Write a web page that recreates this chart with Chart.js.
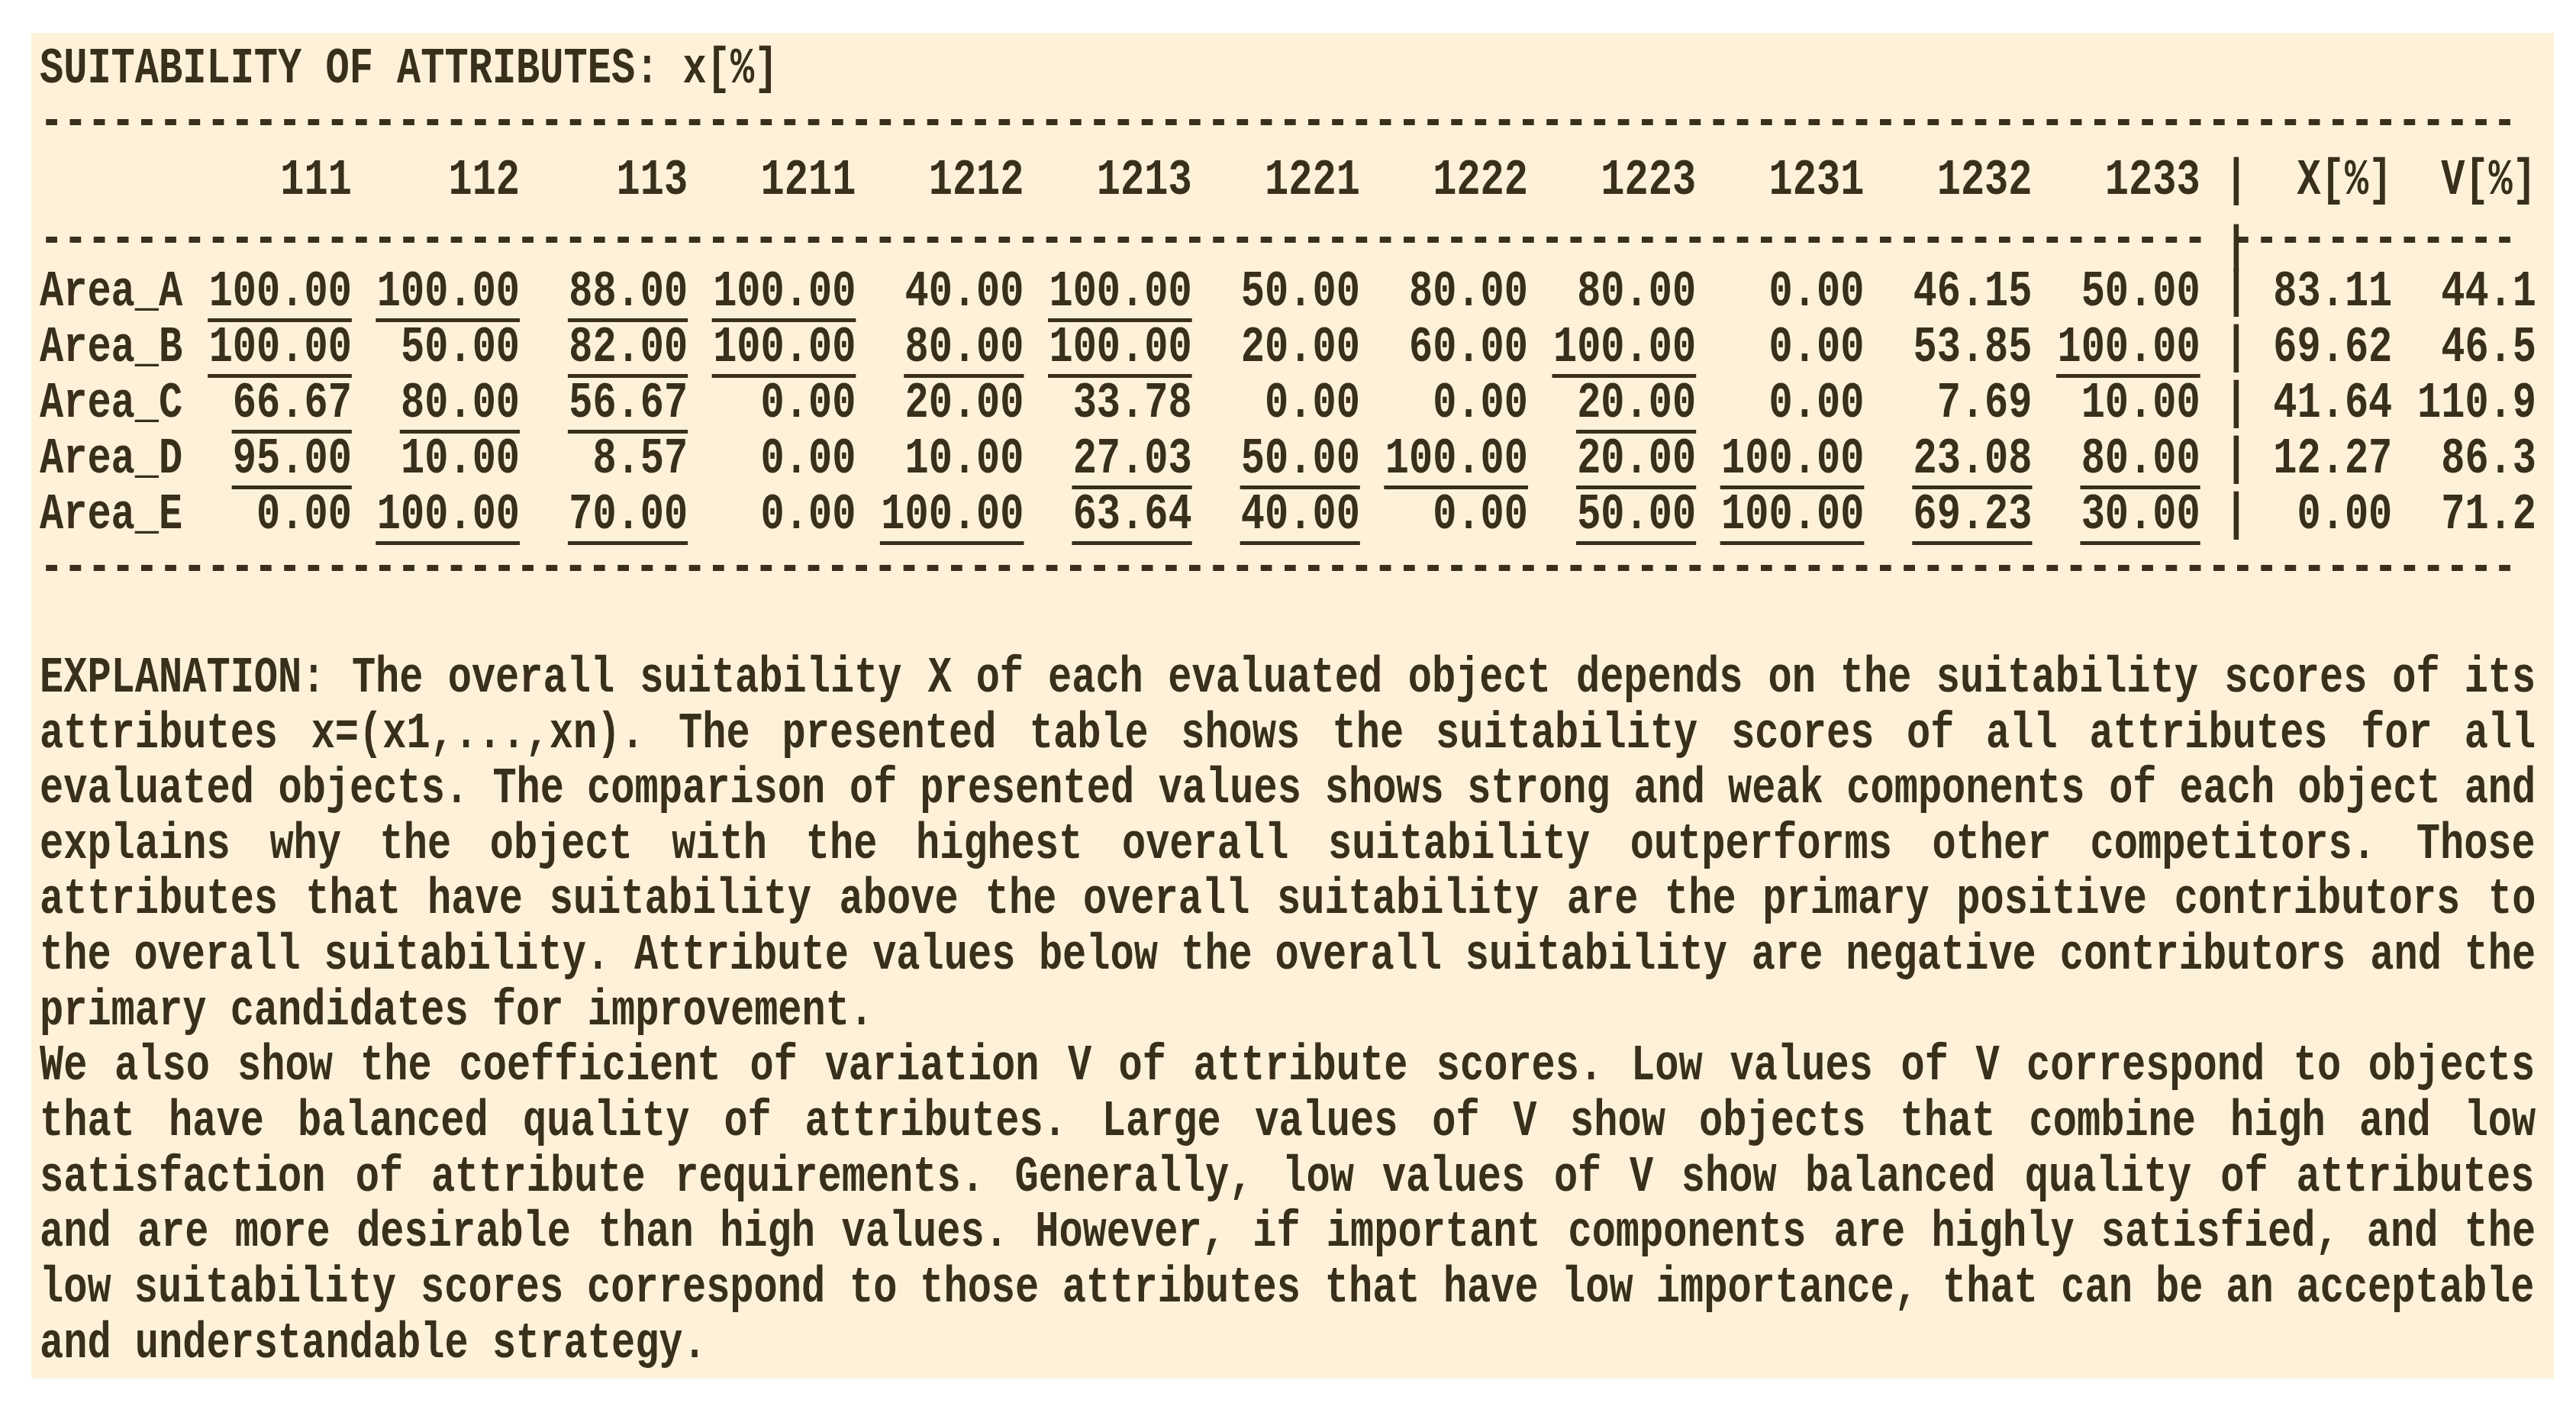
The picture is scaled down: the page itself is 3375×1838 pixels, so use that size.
<!DOCTYPE html>
<html><head><meta charset="utf-8">
<script src="https://cdn.jsdelivr.net/npm/chart.js@4"></script>
<style>html,body{margin:0;padding:0;background:#fff;}#wrap{width:3375px;height:1838px;}</style>
</head><body><div id="wrap"><canvas id="c" width="3375" height="1838"></canvas></div>
<script>
const title = "SUITABILITY OF ATTRIBUTES: x[%]";
const columns = ["111","112","113","1211","1212","1213","1221","1222","1223","1231","1232","1233"];
const rows = ["Area_A","Area_B","Area_C","Area_D","Area_E"];
const areaA = [100,100,88,100,40,100,50,80,80,0,46.15,50];
const areaB = [100,50,82,100,80,100,20,60,100,0,53.85,100];
const areaC = [66.67,80,56.67,0,20,33.78,0,0,20,0,7.69,10];
const areaD = [95,10,8.57,0,10,27.03,50,100,20,100,23.08,80];
const areaE = [0,100,70,0,100,63.64,40,0,50,100,69.23,30];
const overallX = [83.11,69.62,41.64,12.27,0.00];
const variationV = [44.1,46.5,110.9,86.3,71.2];
const underA = [1,1,1,1,0,1,0,0,0,0,0,0];
const underB = [1,0,1,1,1,1,0,0,1,0,0,1];
const underC = [1,1,1,0,0,0,0,0,1,0,0,0];
const underD = [1,0,0,0,0,1,1,1,1,1,1,1];
const underE = [0,1,1,0,1,1,1,0,1,1,1,1];
const explanation = [
"EXPLANATION: The overall suitability X of each evaluated object depends on the suitability scores of its",
"attributes x=(x1,...,xn). The presented table shows the suitability scores of all attributes for all",
"evaluated objects. The comparison of presented values shows strong and weak components of each object and",
"explains why the object with the highest overall suitability outperforms other competitors. Those",
"attributes that have suitability above the overall suitability are the primary positive contributors to",
"the overall suitability. Attribute values below the overall suitability are negative contributors and the",
"primary candidates for improvement.",
"We also show the coefficient of variation V of attribute scores. Low values of V correspond to objects",
"that have balanced quality of attributes. Large values of V show objects that combine high and low",
"satisfaction of attribute requirements. Generally, low values of V show balanced quality of attributes",
"and are more desirable than high values. However, if important components are highly satisfied, and the",
"low suitability scores correspond to those attributes that have low importance, that can be an acceptable",
"and understandable strategy."
];
const noJustify = [6,12];

const series = [areaA,areaB,areaC,areaD,areaE];
const unders = [underA,underB,underC,underD,underE];
const cellData = [];
series.forEach((vals,i)=>vals.forEach((v,j)=>cellData.push({x:13+7*j,y:i,v:v,u:unders[i][j]})));
const xData = overallX.map((v,i)=>({x:98,y:i,v:v}));
const vData = variationV.map((v,i)=>({x:104,y:i,v:v}));

const INK = "#3a2f1c", BG = "#fdf2d9";
const FONT = "bold 52px 'Liberation Mono', 'Courier New', monospace";
const SY = 1.3;

function txt(ctx,s,x,y,align){
  ctx.save(); ctx.translate(x,y); ctx.scale(1,SY);
  ctx.textAlign=align||'left'; ctx.fillText(s,0,0); ctx.restore();
}

const tablePlugin = {
  id:'tablePlugin',
  beforeDraw(chart){
    const ctx=chart.ctx; ctx.save();
    ctx.fillStyle='#fff'; ctx.fillRect(0,0,chart.width,chart.height);
    ctx.fillStyle=BG; ctx.fillRect(41,43,3305,1763); ctx.restore();
  },
  afterDatasetsDraw(chart){
    const ctx=chart.ctx, xs=chart.scales.x, ys=chart.scales.y;
    const X=v=>xs.getPixelForValue(v), Y=v=>ys.getPixelForValue(v);
    const cw = X(1)-X(0);
    ctx.save(); ctx.fillStyle=INK; ctx.strokeStyle=INK; ctx.font=FONT; ctx.textBaseline='middle';
    txt(ctx,title,X(0),Y(-4));
    txt(ctx,"-".repeat(104),X(0),Y(-3.05));
    columns.forEach((c,j)=>txt(ctx,c,X(13+7*j),Y(-2),'right'));
    txt(ctx,"|",X(91),Y(-2)); txt(ctx,"X[%]",X(98),Y(-2),'right'); txt(ctx,"V[%]",X(104),Y(-2),'right');
    txt(ctx,"-".repeat(91)+" "+"-".repeat(12),X(0),Y(-0.95));
    txt(ctx,"|",X(91),Y(-0.8));
    rows.forEach((r,i)=>{txt(ctx,r,X(0),Y(i)); txt(ctx,"|",X(91),Y(i));});
    const draw=(idx,dec)=>{
      const meta=chart.getDatasetMeta(idx);
      meta.data.forEach((el,k)=>{
        const d=chart.data.datasets[idx].data[k];
        const s=d.v.toFixed(dec);
        txt(ctx,s,el.x,el.y,'right');
        if(d.u){ ctx.fillRect(el.x-s.length*cw, el.y+34, s.length*cw, 5); }
      });
    };
    draw(0,2); draw(1,2); draw(2,1);
    txt(ctx,"-".repeat(104),X(0),Y(4.95));
    const W = X(104)-X(0);
    explanation.forEach((line,k)=>{
      const y=Y(6.93+0.995*k);
      if(noJustify.includes(k)){ txt(ctx,line,X(0),y); return; }
      const words=line.split(' ');
      const wsum=words.reduce((a,w)=>a+w.length*cw,0);
      const gap=(W-wsum)/(words.length-1);
      let x=X(0);
      words.forEach(w=>{ txt(ctx,w,x,y); x+=w.length*cw+gap; });
    });
    ctx.restore();
  }
};

new Chart(document.getElementById('c'),{
  type:'scatter',
  data:{datasets:[
    {label:'cells',data:cellData,pointRadius:0},
    {label:'X',data:xData,pointRadius:0},
    {label:'V',data:vData,pointRadius:0}
  ]},
  options:{
    responsive:false, devicePixelRatio:1, animation:false,
    layout:{padding:{left:52,right:3375-3323,top:0,bottom:0}},
    plugins:{legend:{display:false},tooltip:{enabled:false}},
    scales:{
      x:{type:'linear',min:0,max:104,display:false},
      y:{type:'linear',min:-383/73,max:(1838-383)/73,reverse:true,display:false}
    }
  },
  plugins:[tablePlugin]
});
</script></body></html>
